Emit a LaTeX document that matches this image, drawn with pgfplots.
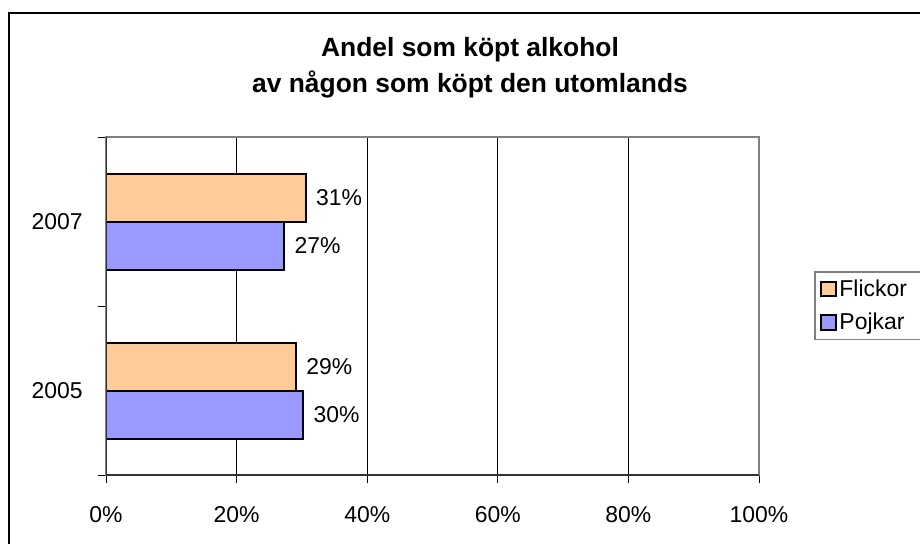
\documentclass[border=0pt]{standalone}
\usepackage{fontspec}
\setmainfont{Liberation Sans}
\usepackage{pgfplots}
\pgfplotsset{compat=1.18}

\definecolor{flick}{RGB}{255,204,153}
\definecolor{pojk}{RGB}{153,153,255}
\definecolor{frm}{RGB}{128,128,128}

\begin{document}
\begin{tikzpicture}
% canvas 920x543 px at 0.75pt per px
\clip (0,0) rectangle (690pt,407.25pt);
\draw[line width=1.5pt] (6.75pt,-20pt) rectangle (720pt,397.5pt);
\node[align=center, font=\fontsize{19.8}{27}\selectfont\bfseries] at (352.5pt,356.5pt)
  {Andel som köpt alkohol\\av någon som köpt den utomlands};
\begin{axis}[
  at={(79.5pt,51pt)}, anchor=south west,
  scale only axis, width=489.75pt, height=253.5pt,
  xbar, bar width=36pt,
  xmin=0, xmax=100, ymin=0, ymax=2,
  xtick={0,20,40,60,80,100},
  xticklabels={0\%,20\%,40\%,60\%,80\%,100\%},
  ytick={0,1,2}, yticklabels={},
  extra y ticks={0.5,1.5}, extra y tick labels={2005,2007},
  extra y tick style={major tick length=0pt, grid=none,
    tick label style={xshift=-14pt}},
  xmajorgrids, grid style={black, line width=0.6pt},
  tick align=outside, major tick length=6pt,
  xtick pos=bottom, ytick pos=left,
  tick style={black, line width=0.75pt},
  axis line style={frm, line width=1.5pt},
  tick label style={font=\fontsize{17.2}{20}\selectfont},
  xticklabel style={yshift=-14pt},
  nodes near coords, point meta=explicit symbolic,
  every node near coord/.append style={anchor=west, inner sep=0pt, xshift=7pt,
    font=\fontsize{17.2}{20}\selectfont, text=black},
  legend style={at={(1.0842,0.6036)}, anchor=north west, draw=frm, line width=1.2pt,
    font=\fontsize{17.2}{20}\selectfont, inner xsep=4pt, inner ysep=4pt, row sep=7pt},
  legend cell align=left,
  legend image code/.code={\draw[#1, draw=black, line width=1.5pt] (0pt,-5.5pt) rectangle (11pt,5.5pt);},
]
\addplot[fill=flick, draw=black, line width=1.5pt, bar shift=18pt]
  coordinates {(29.1,0.5) [29\%] (30.6,1.5) [31\%]};
\addplot[fill=pojk, draw=black, line width=1.5pt, bar shift=-18pt]
  coordinates {(30.2,0.5) [30\%] (27.3,1.5) [27\%]};
\legend{\makebox[100pt][l]{Flickor}, Pojkar}
\draw[black!80, line width=1.5pt] (rel axis cs:0,1) -- (rel axis cs:0,0) -- (rel axis cs:1,0);
\end{axis}
\end{tikzpicture}
\end{document}
